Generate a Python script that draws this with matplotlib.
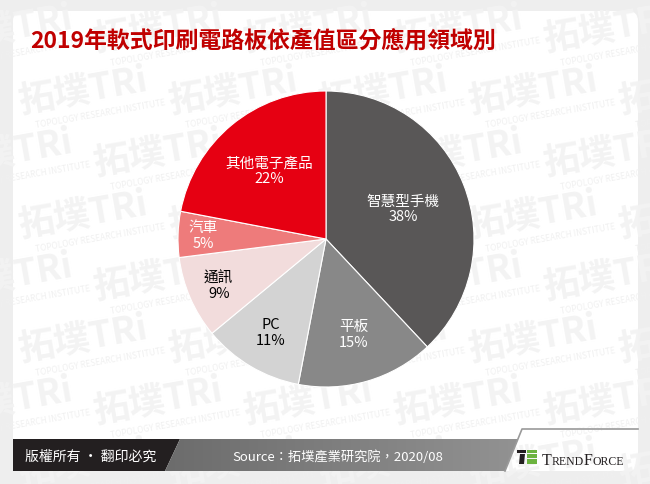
import matplotlib
matplotlib.use('Agg')
import matplotlib.pyplot as plt
import numpy as np
from matplotlib.patches import FancyBboxPatch, Polygon, Rectangle
from matplotlib.colors import LinearSegmentedColormap

# ---- data ----
categories = ['智慧型手機', '平板', 'PC', '通訊', '汽車', '其他電子產品']
shares = [38, 15, 11, 9, 5, 22]
colors = ['#595757', '#888888', '#d3d3d3', '#f2dcdc', '#ee7b7b', '#e60012']
label_colors = ['white', 'white', 'black', 'black', 'white', 'white']
label_radius = [0.56, 0.67, 0.73, 0.79, 0.83, 0.60]
title = '2019年軟式印刷電路板依產值區分應用領域別'
source = 'Source：拓墣產業研究院，2020/08'
copyright_text = '版權所有 · 翻印必究'

plt.rcParams['font.family'] = ['Noto Sans CJK TC', 'DejaVu Sans']

W, H = 650, 485
fig = plt.figure(figsize=(6.5, 4.85), dpi=100, facecolor='#eeeeee')

# background axes in pixel coordinates
bg = fig.add_axes([0, 0, 1, 1])
bg.set_xlim(0, W)
bg.set_ylim(H, 0)
bg.axis('off')

panel = FancyBboxPatch((13, 12), 625, 460, boxstyle='round,pad=0,rounding_size=10',
                       fc='white', ec='none', zorder=0)
bg.add_patch(panel)

# watermark
for row, y in enumerate(range(30, 480, 62)):
    for col, x in enumerate(range(-60, 700, 150)):
        xo = x + (row % 2) * 75
        t1 = bg.text(xo, y, '拓墣TRi', fontsize=26, fontweight='bold', color='#f3f3f3',
                     rotation=10, ha='left', va='center', zorder=0.5)
        t1.set_clip_path(panel)
        t2 = bg.text(xo + 20, y + 22, 'TOPOLOGY RESEARCH INSTITUTE', fontsize=6,
                     color='#f0f0f0', rotation=10, ha='left', va='center', zorder=0.5)
        t2.set_clip_path(panel)

# title
bg.text(30, 41, title, fontsize=16.5, fontweight='bold', color='#c00000',
        ha='left', va='center', zorder=3)

# footer: black box
bg.add_patch(Polygon([(13, 440), (180, 440), (165, 472), (13, 472)], closed=True,
                     fc='#231f20', ec='none', zorder=2))
# gray gradient band
band = Polygon([(180, 440), (518, 440), (505, 472), (165, 472)], closed=True,
               fc='none', ec='none', zorder=2)
bg.add_patch(band)
grad = np.linspace(0, 1, 256).reshape(1, -1)
cmap = LinearSegmentedColormap.from_list('g', ['#6c6c6c', '#929292'])
im = bg.imshow(grad, extent=(165, 518, 472, 440), cmap=cmap, aspect='auto', zorder=2)
im.set_clip_path(band)
bg.set_xlim(0, W)
bg.set_ylim(H, 0)
# logo frame line
bg.plot([638, 522, 505], [430, 430, 472], color='#9a9a9a', lw=1.2, zorder=2.5)

bg.text(25, 457, copyright_text, color='white', fontsize=10, ha='left', va='center', zorder=3)
bg.text(338, 457, source, color='white', fontsize=9.5, ha='center', va='center', zorder=3)

# TrendForce icon
bg.add_patch(Rectangle((517, 451), 9, 3, fc='#231f20', ec='none', zorder=3))
bg.add_patch(Polygon([(520, 455), (525, 455), (524, 465), (519, 465)], fc='#231f20', ec='none', zorder=3))
bg.add_patch(Rectangle((527, 451), 10, 3, fc='#6cb33f', ec='none', zorder=3))
bg.add_patch(Rectangle((527, 455), 10, 4, fc='#6cb33f', ec='none', zorder=3))
bg.add_patch(Rectangle((527, 460), 10, 5, fc='#6cb33f', ec='none', zorder=3))

renderer = fig.canvas.get_renderer()
x = 542
for s, size in [('T', 11.5), ('REND', 8.5), ('F', 11.5), ('ORCE', 8.5)]:
    t = bg.text(x, 465, s, fontsize=size, family='Liberation Serif', color='#231f20',
                ha='left', va='baseline', zorder=3)
    bb = t.get_window_extent(renderer=renderer)
    x += bb.width

# pie
cx, cy, r = 326, 240, 148
ax = fig.add_axes([(cx - r) / W, 1 - (cy + r) / H, 2 * r / W, 2 * r / H])
wedges, _ = ax.pie(shares, colors=colors, startangle=90, counterclock=False, radius=1,
                   wedgeprops=dict(edgecolor='white', linewidth=0.8))
ax.set_xlim(-1, 1)
ax.set_ylim(-1, 1)
ax.axis('off')
for w, cat, val, lc, lr in zip(wedges, categories, shares, label_colors, label_radius):
    ang = np.deg2rad((w.theta1 + w.theta2) / 2)
    ax.text(lr * np.cos(ang), lr * np.sin(ang), f'{cat}\n{val}%', ha='center', va='center',
            color=lc, fontsize=10.5, linespacing=1.15)

fig.savefig('out.png', dpi=100, facecolor=fig.get_facecolor())
